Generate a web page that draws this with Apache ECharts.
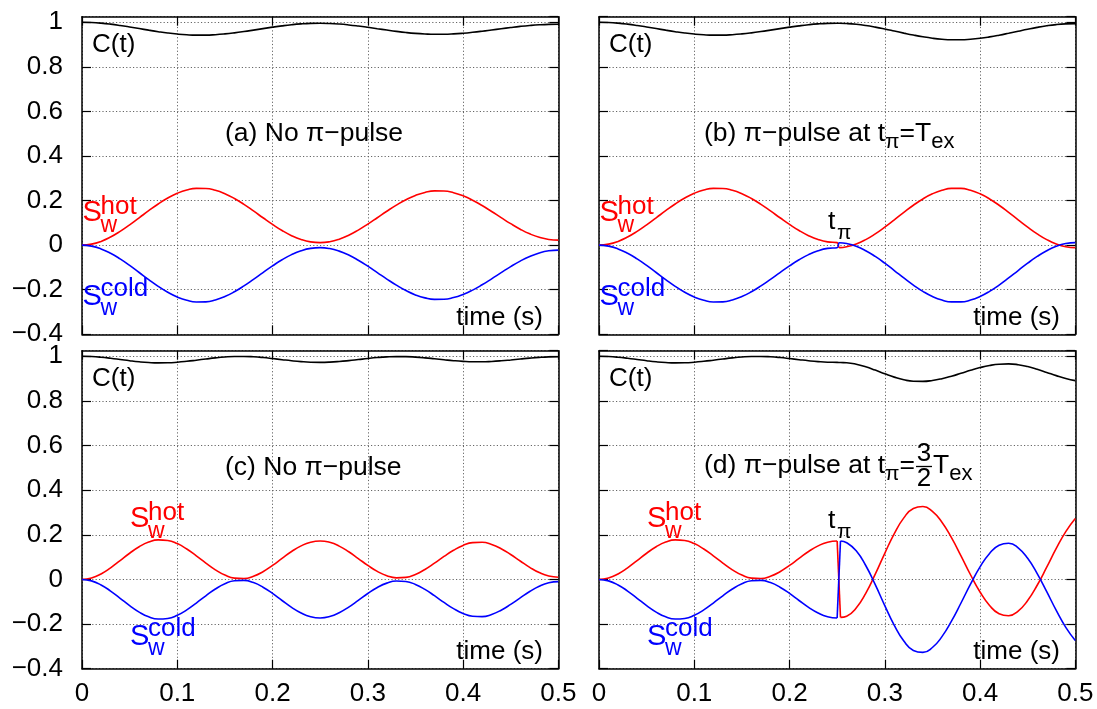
<!DOCTYPE html>
<html><head><meta charset="utf-8">
<script src="https://cdn.jsdelivr.net/npm/echarts@6/dist/echarts.min.js"></script>
<style>html,body{margin:0;padding:0;background:#fff}#c{width:1097px;height:709px}</style>
</head><body><div id="c"></div>
<script>
// ---------- data ----------
const timeA = [0,0.01,0.02,0.03,0.04,0.05,0.06,0.07,0.08,0.09,0.1,0.11,0.12,0.13,0.14,0.15,0.16,0.17,0.18,0.19,0.2,0.21,0.22,0.23,0.24,0.25,0.26,0.27,0.28,0.29,0.3,0.31,0.32,0.33,0.34,0.35,0.36,0.37,0.38,0.39,0.4,0.41,0.42,0.43,0.44,0.45,0.46,0.47,0.48,0.49,0.5];
const timeB = [0,0.01,0.02,0.03,0.04,0.05,0.06,0.07,0.08,0.09,0.1,0.11,0.12,0.13,0.14,0.15,0.16,0.17,0.18,0.19,0.2,0.21,0.22,0.23,0.24,0.25,0.2525,0.26,0.27,0.28,0.29,0.3,0.31,0.32,0.33,0.34,0.35,0.36,0.37,0.38,0.39,0.4,0.41,0.42,0.43,0.44,0.45,0.46,0.47,0.48,0.49,0.5];
const timeD = [0,0.01,0.02,0.03,0.04,0.05,0.06,0.07,0.08,0.09,0.1,0.11,0.12,0.13,0.14,0.15,0.16,0.17,0.18,0.19,0.2,0.21,0.22,0.23,0.24,0.25,0.2535,0.26,0.27,0.28,0.29,0.3,0.31,0.32,0.33,0.34,0.35,0.36,0.37,0.38,0.39,0.4,0.41,0.42,0.43,0.44,0.45,0.46,0.47,0.48,0.49,0.5];

// panel (a)
const cohA = [1,0.9989,0.996,0.9915,0.9857,0.979,0.9718,0.9646,0.9578,0.9518,0.9471,0.9438,0.9423,0.9424,0.9443,0.9478,0.9526,0.9584,0.9649,0.9716,0.9781,0.984,0.989,0.9927,0.9949,0.9955,0.9945,0.992,0.9881,0.9831,0.9774,0.9712,0.9651,0.9593,0.9542,0.9502,0.9475,0.9461,0.9463,0.9479,0.9509,0.955,0.9599,0.9654,0.971,0.9765,0.9815,0.9856,0.9887,0.9905,0.991];
const hotA = [0,0.0045,0.0169,0.0364,0.0616,0.091,0.1227,0.1546,0.1848,0.2114,0.2327,0.2475,0.2549,0.2544,0.2462,0.2308,0.2093,0.183,0.1535,0.1229,0.093,0.0656,0.0426,0.0252,0.0146,0.0113,0.0154,0.0268,0.0445,0.0676,0.0943,0.1231,0.1522,0.1796,0.2038,0.2232,0.2366,0.2433,0.2427,0.2353,0.2212,0.2017,0.1778,0.1511,0.1234,0.0963,0.0716,0.0507,0.035,0.0255,0.0225];
const coldA = [0,-0.0045,-0.0169,-0.0364,-0.0616,-0.091,-0.1227,-0.1546,-0.1848,-0.2114,-0.2327,-0.2475,-0.2549,-0.2544,-0.2462,-0.2308,-0.2093,-0.183,-0.1535,-0.1229,-0.093,-0.0656,-0.0426,-0.0252,-0.0146,-0.0113,-0.0154,-0.0268,-0.0445,-0.0676,-0.0943,-0.1231,-0.1522,-0.1796,-0.2038,-0.2232,-0.2366,-0.2433,-0.2427,-0.2353,-0.2212,-0.2017,-0.1778,-0.1511,-0.1234,-0.0963,-0.0716,-0.0507,-0.035,-0.0255,-0.0225];

// panel (b)
const cohB = [1,0.9989,0.996,0.9915,0.9857,0.979,0.9718,0.9646,0.9578,0.9518,0.9471,0.9438,0.9423,0.9424,0.9443,0.9478,0.9526,0.9584,0.9649,0.9716,0.9781,0.984,0.989,0.9927,0.9949,0.9955,0.9955,0.9943,0.9908,0.9854,0.9782,0.9698,0.9607,0.9514,0.9426,0.9348,0.9284,0.9239,0.9216,0.9215,0.9238,0.9281,0.9344,0.9421,0.9508,0.9599,0.9689,0.9772,0.9842,0.9896,0.9929,0.994];
const hotB = [0,0.0045,0.0169,0.0364,0.0616,0.091,0.1227,0.1546,0.1848,0.2114,0.2327,0.2475,0.2549,0.2544,0.2462,0.2308,0.2093,0.183,0.1535,0.1229,0.093,0.0656,0.0426,0.0252,0.0146,0.0113,-0.011,-0.0071,0.0052,0.0249,0.0507,0.0809,0.1138,0.1472,0.179,0.2073,0.2302,0.2463,0.2547,0.2547,0.2463,0.2302,0.2073,0.179,0.1472,0.1138,0.0809,0.0507,0.0249,0.0052,-0.0071,-0.0113];
const coldB = [0,-0.0045,-0.0169,-0.0364,-0.0616,-0.091,-0.1227,-0.1546,-0.1848,-0.2114,-0.2327,-0.2475,-0.2549,-0.2544,-0.2462,-0.2308,-0.2093,-0.183,-0.1535,-0.1229,-0.093,-0.0656,-0.0426,-0.0252,-0.0146,-0.0113,0.011,0.0071,-0.0052,-0.0249,-0.0507,-0.0809,-0.1138,-0.1472,-0.179,-0.2073,-0.2302,-0.2463,-0.2547,-0.2547,-0.2463,-0.2302,-0.2073,-0.179,-0.1472,-0.1138,-0.0809,-0.0507,-0.0249,-0.0052,0.0071,0.0113];

// panel (c)
const cohC = [1,0.9989,0.9958,0.9911,0.9857,0.9801,0.9753,0.9719,0.9703,0.9708,0.9733,0.9774,0.9825,0.9879,0.9929,0.9967,0.9989,0.9992,0.9976,0.9943,0.9898,0.9848,0.98,0.9761,0.9735,0.9728,0.9738,0.9766,0.9806,0.9853,0.9901,0.9942,0.9972,0.9986,0.9983,0.9963,0.993,0.9888,0.9844,0.9803,0.9772,0.9755,0.9754,0.9769,0.9797,0.9835,0.9877,0.9918,0.9951,0.9973,0.998];
const hotC = [0,0.0065,0.0247,0.052,0.0844,0.1174,0.1464,0.1674,0.1772,0.1748,0.1606,0.1364,0.1059,0.0732,0.043,0.0195,0.0059,0.0041,0.0142,0.0347,0.0628,0.0943,0.125,0.1503,0.1669,0.1725,0.1663,0.1493,0.1239,0.0937,0.063,0.036,0.0165,0.0072,0.0094,0.0225,0.0448,0.0729,0.103,0.1308,0.1524,0.1649,0.1665,0.1569,0.1378,0.1118,0.0826,0.0542,0.0307,0.0152,0.01];
const coldC = [0,-0.0065,-0.0247,-0.052,-0.0844,-0.1174,-0.1464,-0.1674,-0.1772,-0.1748,-0.1606,-0.1364,-0.1059,-0.0732,-0.043,-0.0195,-0.0059,-0.0041,-0.0142,-0.0347,-0.0628,-0.0943,-0.125,-0.1503,-0.1669,-0.1725,-0.1663,-0.1493,-0.1239,-0.0937,-0.063,-0.036,-0.0165,-0.0072,-0.0094,-0.0225,-0.0448,-0.0729,-0.103,-0.1308,-0.1524,-0.1649,-0.1665,-0.1569,-0.1378,-0.1118,-0.0826,-0.0542,-0.0307,-0.0152,-0.01];

// panel (d)
const cohD = [1,0.9989,0.9958,0.9911,0.9857,0.9801,0.9753,0.9719,0.9703,0.9708,0.9733,0.9774,0.9825,0.9879,0.9929,0.9967,0.9989,0.9992,0.9976,0.9943,0.9898,0.9848,0.98,0.9761,0.9735,0.9728,0.972,0.9711,0.9646,0.9531,0.938,0.9218,0.9066,0.8948,0.8881,0.8874,0.8914,0.8996,0.9108,0.9238,0.9372,0.9493,0.9588,0.9645,0.9659,0.9623,0.9539,0.9418,0.9277,0.9133,0.9004,0.8908];
const hotD = [0,0.0065,0.0247,0.052,0.0844,0.1174,0.1464,0.1674,0.1772,0.1748,0.1606,0.1364,0.1059,0.0732,0.043,0.0195,0.0059,0.0041,0.0142,0.0347,0.0628,0.0943,0.125,0.1503,0.1669,0.1725,-0.17,-0.1646,-0.1282,-0.0624,0.0234,0.1171,0.2054,0.2759,0.3182,0.327,0.305,0.2564,0.187,0.1056,0.021,-0.0562,-0.1166,-0.1536,-0.1624,-0.1418,-0.0945,-0.0261,0.0547,0.1387,0.2145,0.2732];
const coldD = [0,-0.0065,-0.0247,-0.052,-0.0844,-0.1174,-0.1464,-0.1674,-0.1772,-0.1748,-0.1606,-0.1364,-0.1059,-0.0732,-0.043,-0.0195,-0.0059,-0.0041,-0.0142,-0.0347,-0.0628,-0.0943,-0.125,-0.1503,-0.1669,-0.1725,0.172,0.1646,0.1282,0.0624,-0.0234,-0.1171,-0.2054,-0.2759,-0.3182,-0.327,-0.305,-0.2564,-0.187,-0.1056,-0.021,0.0562,0.1166,0.1536,0.1624,0.1418,0.0945,0.0261,-0.0547,-0.1387,-0.2145,-0.2732];

const xTicks = [0, 0.1, 0.2, 0.3, 0.4, 0.5];
const yTicks = [-0.4, -0.2, 0, 0.2, 0.4, 0.6, 0.8, 1];

// ---------- chart ----------
const FONT = '"Liberation Sans", Arial, Helvetica, sans-serif';
const chart = echarts.init(document.getElementById('c'), null, {renderer: 'canvas'});

const gridBoxes = [
  {left: 82, top: 16.7, width: 476.3, height: 317.6},
  {left: 599, top: 16.7, width: 476.3, height: 317.6},
  {left: 82, top: 350.7, width: 476.3, height: 318},
  {left: 599, top: 350.7, width: 476.3, height: 318}
];
const panels = [
  {t: timeA, c: cohA, h: hotA, k: coldA},
  {t: timeB, c: cohB, h: hotB, k: coldB},
  {t: timeA, c: cohC, h: hotC, k: coldC},
  {t: timeD, c: cohD, h: hotD, k: coldD}
];

const lineCol = {color: '#000', width: 1.5};
const tickStyle = {inside: true, length: 9, lineStyle: {color: '#000', width: 1.2}};
const gridLine = {show: true, lineStyle: {type: [1.2, 2.2], color: '#555', width: 0.9}};
const labelStyle = {fontSize: 26, color: '#000', fontFamily: FONT};
const fmt = v => {
  const r = Math.round(v * 10) / 10;
  const ok = xTicks.concat(yTicks).some(q => Math.abs(q - v) < 1e-6);
  if (!ok) return '';
  return String(r).replace('-', '\u2212');
};

const grid = [], xAxis = [], yAxis = [], series = [];
gridBoxes.forEach((g, i) => {
  grid.push(Object.assign({show: false, containLabel: false, outerBoundsMode: 'none'}, g));
  const showX = i >= 2, showY = (i % 2) === 0;
  xAxis.push({gridIndex: i, type: 'value', min: 0, max: 0.5, interval: 0.1, position: 'bottom',
    axisLine: {show: true, onZero: false, lineStyle: lineCol}, axisTick: tickStyle,
    axisLabel: Object.assign({show: showX, margin: 12, formatter: fmt, showMinLabel: true, showMaxLabel: true}, labelStyle),
    splitLine: gridLine});
  xAxis.push({gridIndex: i, type: 'value', min: 0, max: 0.5, interval: 0.1, position: 'top',
    axisLine: {show: true, onZero: false, lineStyle: lineCol}, axisTick: tickStyle,
    axisLabel: {show: false}, splitLine: {show: false}});
  yAxis.push({gridIndex: i, type: 'value', min: -0.4, max: 1.025, interval: 0.2, position: 'left',
    axisLine: {show: true, onZero: false, lineStyle: lineCol}, axisTick: tickStyle,
    axisLabel: Object.assign({show: showY, margin: 19, formatter: fmt, showMaxLabel: false}, labelStyle),
    splitLine: gridLine});
  yAxis.push({gridIndex: i, type: 'value', min: -0.4, max: 1.025, interval: 0.2, position: 'right',
    axisLine: {show: true, onZero: false, lineStyle: lineCol}, axisTick: tickStyle,
    axisLabel: {show: false}, splitLine: {show: false}});
});

function addCurve(pi, ts, vs, color) {
  // split where the curve jumps (pi-pulse) so the jump is drawn straight
  let start = 0;
  const push = (a, b, smooth) => {
    const data = [];
    for (let j = a; j <= b; j++) data.push([ts[j], vs[j]]);
    series.push({type: 'line', xAxisIndex: 2 * pi, yAxisIndex: 2 * pi, data, smooth,
      symbol: 'none', silent: true, animation: false, clip: true,
      lineStyle: {color, width: 1.6}});
  };
  for (let j = 0; j < vs.length - 1; j++) {
    if (Math.abs(vs[j + 1] - vs[j]) > 0.15) {
      push(start, j, true);
      push(j, j + 1, false);
      start = j + 1;
    }
  }
  push(start, vs.length - 1, true);
}
panels.forEach((p, i) => {
  addCurve(i, p.t, p.c, '#000000');
  addCurve(i, p.t, p.h, '#ff0000');
  addCurve(i, p.t, p.k, '#0000ff');
});

// ---------- text annotations ----------
const ctx = document.createElement('canvas').getContext('2d');
const tw = (s, fs) => { ctx.font = fs + 'px ' + FONT; return ctx.measureText(s).width; };
const graphic = [];
function txt(x, y, s, fs, color, align) {
  graphic.push({type: 'text', x, y, silent: true, z: 100,
    style: {text: s, fontSize: fs, fontFamily: FONT, fill: color || '#000',
      align: align || 'left', verticalAlign: 'middle'}});
}
function run(x, cy, pieces, color) {
  pieces.forEach(([s, fs, dy]) => { txt(x, cy + dy, s, fs, color); x += tw(s, fs); });
  return x;
}
function sLabel(x, cy, sup, color, supDy, subDy) {
  txt(x, cy, 'S', 29, color);
  txt(x + 18, cy + supDy, sup, 26, color);
  txt(x + 18, cy + subDy, 'w', 23, color);
}
const offs = [[0, 0], [517, 0], [0, 334], [517, 334]];
offs.forEach(([dx, dy], i) => {
  txt(92 + dx, 45 + dy, 'C(t)', 26);
  txt(543 + dx, 318 + dy, 'time (s)', 26, '#000', 'right');
  if (i < 2) {
    sLabel(82.5 + dx, 213, 'hot', '#ff0000', -6, 12.5);
    sLabel(82.5 + dx, 297, 'cold', '#0000ff', -8, 12);
  } else {
    sLabel(130 + dx, 519, 'hot', '#ff0000', -6, 12.5);
    sLabel(130 + dx, 637, 'cold', '#0000ff', -8, 12);
  }
});
run(225, 134, [['(a) No \u03c0\u2212pulse', 26.5, 0]]);
run(225, 468, [['(c) No \u03c0\u2212pulse', 26.5, 0]]);
run(704, 134, [['(b) \u03c0\u2212pulse at t', 26.5, 0], ['\u03c0', 21, 8], ['=T', 26.5, 0], ['ex', 22, 8]]);
let xf = run(704, 466, [['(d) \u03c0\u2212pulse at t', 26.5, 0], ['\u03c0', 21, 8], ['=', 26.5, 0]]);
txt(xf + 9, 454, '3', 26, '#000', 'center');
txt(xf + 9, 479, '2', 26, '#000', 'center');
graphic.push({type: 'line', silent: true, shape: {x1: xf + 1, y1: 466.5, x2: xf + 17, y2: 466.5},
  style: {stroke: '#000', lineWidth: 1.3}});
run(xf + 18, 466, [['T', 26.5, 0], ['ex', 22, 8]]);
// t_pi markers
txt(828, 222, 't', 26.5); txt(837, 233, '\u03c0', 21);
txt(828, 521, 't', 26.5); txt(837, 532, '\u03c0', 21);

chart.setOption({animation: false, backgroundColor: '#fff', grid, xAxis, yAxis, series, graphic});
</script></body></html>
